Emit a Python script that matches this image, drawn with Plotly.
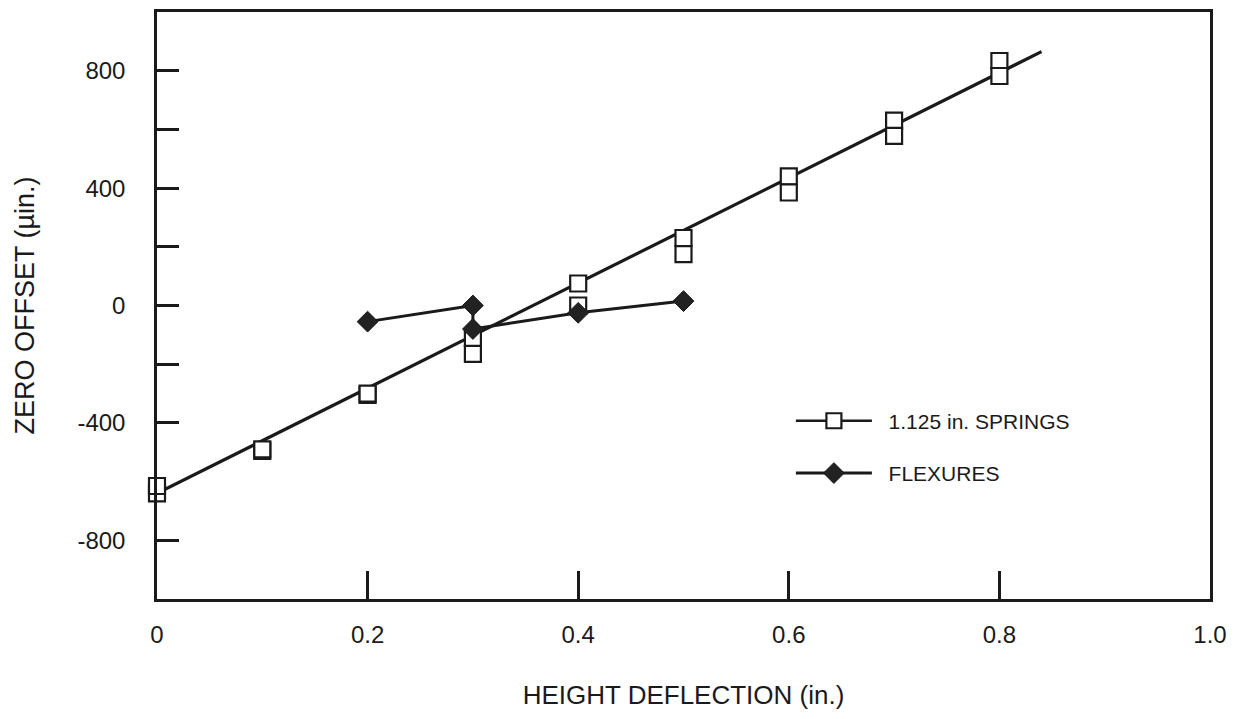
import plotly.graph_objects as go

# Zero offset measurements with the 1.125 in. springs (two readings per deflection)
spring_x = [0.0, 0.0, 0.1, 0.1, 0.2, 0.2, 0.3, 0.3, 0.4, 0.4,
            0.5, 0.5, 0.6, 0.6, 0.7, 0.7, 0.8, 0.8]
spring_y = [-640, -615, -495, -490, -305, -300, -165, -110, 75, 0,
            230, 175, 440, 385, 630, 578, 833, 782]

# Straight-line fit through the spring readings
fit_x = [0.0, 0.84]
fit_y = [-640, 865]

# Zero offset measurements with the flexures
flex_x = [0.2, 0.3, 0.3, 0.4, 0.5]
flex_y = [-55, 0, -80, -25, 15]

# Axis ticks
x_ticks = [0.0, 0.2, 0.4, 0.6, 0.8, 1.0]
x_labels = ["0", "0.2", "0.4", "0.6", "0.8", "1.0"]
y_ticks = [800, 600, 400, 200, 0, -200, -400, -800]
y_labels = ["800", "", "400", "", "0", "", "-400", "-800"]

INK = "#1a1a1a"
FONT = "Liberation Sans, Arial, Helvetica, sans-serif"
PAD = "\u00a0\u00a0"  # small gap between legend symbol and its label

fig = go.Figure()

fig.add_trace(go.Scatter(
    x=fit_x, y=fit_y, mode="lines",
    line=dict(color=INK, width=3.2),
    showlegend=False, hoverinfo="skip",
))
fig.add_trace(go.Scatter(
    x=spring_x, y=spring_y, mode="markers",
    marker=dict(symbol="square", size=16, color="white",
                line=dict(color=INK, width=2.2)),
    cliponaxis=False, showlegend=False,
))
# legend entry for the springs: line with an open square
fig.add_trace(go.Scatter(
    x=[None], y=[None], mode="lines+markers", name=PAD + "1.125 in. SPRINGS",
    line=dict(color=INK, width=2.5),
    marker=dict(symbol="square", size=15, color="white",
                line=dict(color=INK, width=2.2)),
    legendgroup="springs",
))
fig.add_trace(go.Scatter(
    x=flex_x, y=flex_y, mode="lines+markers", name=PAD + "FLEXURES",
    line=dict(color=INK, width=3),
    marker=dict(symbol="diamond", size=16, color="#222222",
                line=dict(color=INK, width=1)),
    cliponaxis=False, legendgroup="flexures",
))

axis_common = dict(
    showline=True, linecolor=INK, linewidth=2.5, mirror=True,
    showgrid=False, zeroline=False,
    ticks="inside", tickcolor=INK, tickwidth=2.5,
    tickfont=dict(family=FONT, size=24, color=INK),
)

fig.update_xaxes(
    range=[0, 1.0], tickmode="array", tickvals=x_ticks, ticktext=x_labels,
    ticklen=28, ticklabelstandoff=12,
    title=dict(text="HEIGHT DEFLECTION (in.)", standoff=40,
               font=dict(family=FONT, size=26, color=INK)),
    automargin=False, **axis_common,
)
fig.update_yaxes(
    range=[-1000, 1000], tickmode="array", tickvals=y_ticks, ticktext=y_labels,
    ticklen=22, ticklabelstandoff=24,
    title=dict(text="ZERO OFFSET (µin.)", standoff=35,
               font=dict(family=FONT, size=27, color=INK)),
    automargin=False, **axis_common,
)

fig.update_layout(
    width=1236, height=719,
    margin=dict(l=157, r=26, t=12, b=120),
    paper_bgcolor="white", plot_bgcolor="white",
    font=dict(family=FONT, color=INK),
    legend=dict(
        x=0.602, y=0.338, xanchor="left", yanchor="top",
        bgcolor="rgba(0,0,0,0)", borderwidth=0,
        font=dict(family=FONT, size=21, color=INK),
        itemwidth=76, traceorder="grouped", tracegroupgap=22,
    ),
)

fig.write_html("out.html")
